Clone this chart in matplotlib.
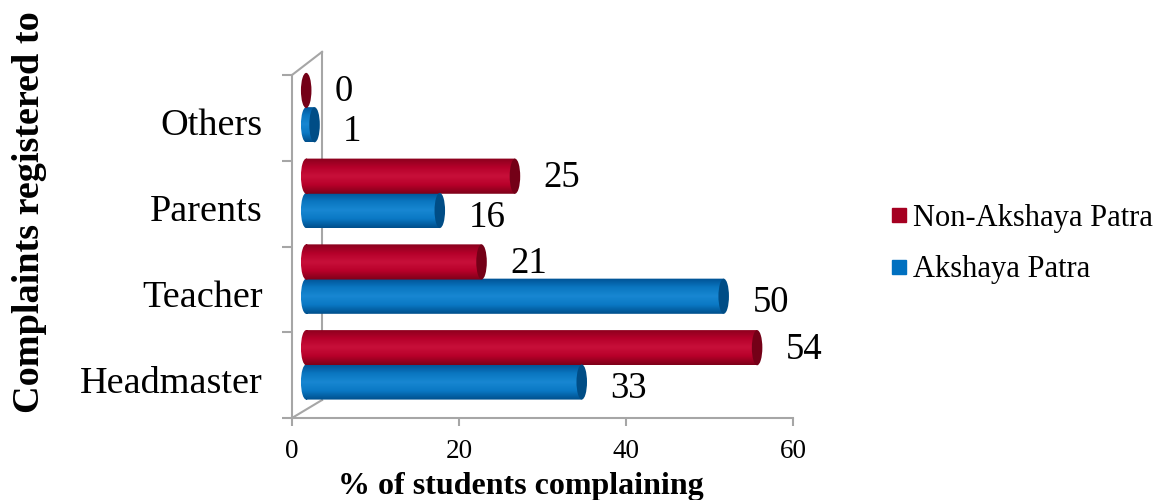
import matplotlib
matplotlib.use("Agg")
import matplotlib.pyplot as plt
import numpy as np
from matplotlib.colors import LinearSegmentedColormap
from matplotlib.lines import Line2D
from matplotlib.patches import Ellipse, Rectangle
from matplotlib.path import Path

plt.rcParams["font.family"] = ["Liberation Serif", "DejaVu Serif"]

categories = ["Headmaster", "Teacher", "Parents", "Others"]
akshaya = [33, 50, 16, 1]
non_akshaya = [54, 21, 25, 0]
series_names = ["Non-Akshaya Patra", "Akshaya Patra"]
xticks = [0, 20, 40, 60]

RED = ["#7e0019", "#b8002a", "#c8103a", "#b5002a", "#8a001d"]
BLUE = ["#004f8c", "#0a78c4", "#1887d2", "#0a76c0", "#005293"]
RED_CAP = "#740017"
BLUE_CAP = "#004d86"
GREY = "#a6a6a6"

X0 = 1.7      # depth offset where bars start
CAP_W = 1.26  # width of the end ellipse (data units)
BAR_H = 0.41


def cylinder(ax, y, value, colors, cap_color):
    cmap = LinearSegmentedColormap.from_list("c", colors)
    grad = np.linspace(0, 1, 64).reshape(-1, 1)
    x_end = X0 + value
    if value > 0:
        body = Rectangle((X0, y - BAR_H / 2), value, BAR_H)
        left = Ellipse((X0, y), CAP_W, BAR_H)
        im = ax.imshow(grad, cmap=cmap, aspect="auto", origin="lower",
                       extent=(X0 - CAP_W / 2, x_end, y - BAR_H / 2, y + BAR_H / 2), zorder=3)
        # clip gradient to body plus rounded left end
        p1 = body.get_path().transformed(body.get_patch_transform())
        p2 = left.get_path().transformed(left.get_patch_transform())
        im.set_clip_path(Path.make_compound_path(p1, p2), ax.transData)
    cap = Ellipse((x_end, y), CAP_W, BAR_H, facecolor=cap_color, edgecolor="none", zorder=4)
    ax.add_patch(cap)


fig = plt.figure(figsize=(11.69, 5.0), dpi=100)
ax = fig.add_axes([292 / 1169, 82 / 500, 501 / 1169, (4.3 * 85.75) / 500])
ax.set_xlim(0, 60)
ax.set_ylim(0, 4.3)

# back wall lines (pseudo 3D frame)
ax.plot([0, 3.6], [4, 4.27], color=GREY, lw=1.5, zorder=1, clip_on=False)
ax.plot([3.6, 3.6], [0.21, 4.27], color=GREY, lw=1.5, zorder=1, clip_on=False)
ax.plot([0, 3.6], [0, 0.21], color=GREY, lw=1.5, zorder=1, clip_on=False)

for i, cat in enumerate(categories):
    yb = i + 0.42
    yr = i + 0.82
    cylinder(ax, yb, akshaya[i], BLUE, BLUE_CAP)
    cylinder(ax, yr, non_akshaya[i], RED, RED_CAP)
    ax.text(X0 + akshaya[i] + CAP_W / 2 + 2.8, yb - 0.08, str(akshaya[i]),
            fontsize=26.5, ha="left", va="center", zorder=5)
    ax.text(X0 + non_akshaya[i] + CAP_W / 2 + 2.8, yr - 0.02, str(non_akshaya[i]),
            fontsize=26.5, ha="left", va="center", zorder=5)

for s in ["top", "right"]:
    ax.spines[s].set_visible(False)
ax.spines["left"].set_bounds(0, 4)
ax.spines["left"].set_color(GREY)
ax.spines["left"].set_linewidth(1.5)
ax.spines["bottom"].set_color(GREY)
ax.spines["bottom"].set_linewidth(1.5)

ax.set_xticks(xticks)
ax.set_xticklabels([str(t) for t in xticks], fontsize=19.5)
ax.tick_params(axis="x", direction="out", length=6, width=1.5, color=GREY, pad=9)

ax.set_yticks([0, 1, 2, 3, 4])
ax.set_yticklabels([])
ax.tick_params(axis="y", which="major", direction="out", length=7, width=1.5, color=GREY)
ax.set_yticks([i + 0.45 for i in range(len(categories))], minor=True)
ax.set_yticklabels(categories, minor=True, fontsize=27.5)
ax.tick_params(axis="y", which="minor", length=0, pad=21)

fig.text(30 / 1169, 1 - 212 / 500, "Complaints registered to", rotation=90,
         fontsize=27.5, fontweight="bold", ha="center", va="center")
fig.text(521 / 1169, 0.012, "% of students complaining", fontsize=23,
         fontweight="bold", ha="center", va="baseline")

handles = [
    Line2D([], [], marker="s", linestyle="none", markersize=10, color="#a50021"),
    Line2D([], [], marker="s", linestyle="none", markersize=10, color="#0070c0"),
]
fig.legend(handles, series_names, loc="center left", bbox_to_anchor=(878 / 1169, 1 - 244 / 500),
           frameon=False, fontsize=22, handlelength=0.6, handletextpad=0.15,
           labelspacing=0.75, borderaxespad=0)

fig.savefig("out.png", dpi=100)
